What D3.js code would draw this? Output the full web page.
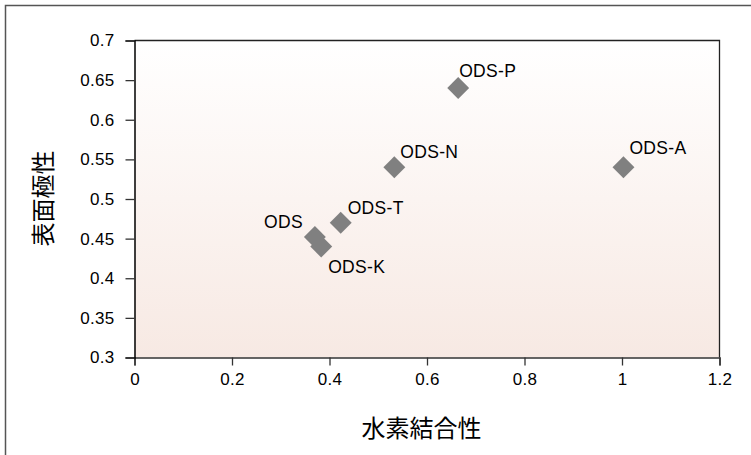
<!DOCTYPE html>
<html><head><meta charset="utf-8">
<script src="https://cdn.jsdelivr.net/npm/d3@7"></script>
<style>body{margin:0;background:#fff}svg{display:block}</style>
</head><body>
<script>
const names = ["ODS", "ODS-K", "ODS-T", "ODS-N", "ODS-P", "ODS-A"];
const xValues = [0.37, 0.383, 0.423, 0.533, 0.664, 1.003];
const yValues = [0.452, 0.44, 0.47, 0.54, 0.64, 0.54];
const xTicks = [0, 0.2, 0.4, 0.6, 0.8, 1, 1.2];
const yTicks = [0.3, 0.35, 0.4, 0.45, 0.5, 0.55, 0.6, 0.65, 0.7];
const xTitle = "水素結合性";
const yTitle = "表面極性";

const W = 751, H = 455;
const m = {l: 134.5, r: 719.5, t: 40.5, b: 357.5};
const svg = d3.select("body").append("svg").attr("width", W).attr("height", H);

svg.append("path").attr("d", `M5.5,${H+2}V5.5H${W+2}`).attr("fill","none").attr("stroke","#555").attr("stroke-width",1.5);

const defs = svg.append("defs");
const g = defs.append("linearGradient").attr("id","bg").attr("x1",0).attr("x2",0).attr("y1",0).attr("y2",1);
g.append("stop").attr("offset","0%").attr("stop-color","#ffffff");
g.append("stop").attr("offset","100%").attr("stop-color","#f7e9e3");

const x = d3.scaleLinear().domain([0, 1.2]).range([m.l, m.r]);
const y = d3.scaleLinear().domain([0.3, 0.7]).range([m.b, m.t]);

svg.append("rect").attr("x", m.l).attr("y", m.t).attr("width", m.r - m.l).attr("height", m.b - m.t)
  .attr("fill", "url(#bg)");
svg.append("path").attr("d", `M${m.l},${m.t}H${m.r}V${m.b}`).attr("fill","none").attr("stroke","#222").attr("stroke-width",1.3);

const font = "'Liberation Sans', Arial, Helvetica, sans-serif";
const xAxis = svg.append("g").attr("transform", `translate(0,${m.b})`)
  .call(d3.axisBottom(x).tickValues(xTicks).tickFormat(d => d3.format("")(d)).tickSize(8).tickPadding(7));
const yAxis = svg.append("g").attr("transform", `translate(${m.l},0)`)
  .call(d3.axisLeft(y).tickValues(yTicks).tickFormat(d => d3.format("")(d)).tickSize(9).tickPadding(11));
[xAxis, yAxis].forEach(a => {
  a.selectAll("text").attr("font-family", font).attr("font-size", 17)
    .attr("letter-spacing", 0.3).attr("fill", "#000");
  a.select(".domain").attr("stroke", "#333").attr("stroke-width", 1.5);
  a.selectAll(".tick line").attr("stroke", "#333").attr("stroke-width", 1.3);
});
yAxis.select(".domain").attr("stroke", "#000");

const data = names.map((n, i) => ({n, x: xValues[i], y: yValues[i]}));
const labelPos = {
  "ODS": {dx: -12, dy: -9, anchor: "end"},
  "ODS-K": {dx: 7, dy: 26, anchor: "start"},
  "ODS-T": {dx: 7, dy: -9, anchor: "start"},
  "ODS-N": {dx: 6, dy: -9, anchor: "start"},
  "ODS-P": {dx: 1, dy: -11, anchor: "start"},
  "ODS-A": {dx: 6, dy: -13, anchor: "start"}
};
const sym = d3.symbol().type(d3.symbolSquare).size(240);
svg.append("g").selectAll("path").data(data).join("path")
  .attr("d", sym)
  .attr("transform", d => `translate(${x(d.x)},${y(d.y)}) rotate(45)`)
  .attr("fill", "#808080");
svg.append("g").selectAll("text").data(data).join("text")
  .attr("x", d => x(d.x) + labelPos[d.n].dx)
  .attr("y", d => y(d.y) + labelPos[d.n].dy)
  .attr("text-anchor", d => labelPos[d.n].anchor)
  .attr("font-family", font).attr("font-size", 17.5).attr("letter-spacing", 0.3)
  .attr("fill", "#000")
  .text(d => d.n);

const cjk = "'Noto Sans CJK JP', 'Noto Sans CJK SC', sans-serif";
svg.append("text").attr("x", 421.5).attr("y", 437)
  .attr("text-anchor", "middle").attr("font-family", cjk).attr("font-size", 24).attr("fill", "#000")
  .text(xTitle);
svg.append("text").attr("transform", `translate(51.5,198.5) rotate(-90)`)
  .attr("text-anchor", "middle").attr("font-family", cjk).attr("font-size", 24).attr("fill", "#000")
  .text(yTitle);
</script>
</body></html>
